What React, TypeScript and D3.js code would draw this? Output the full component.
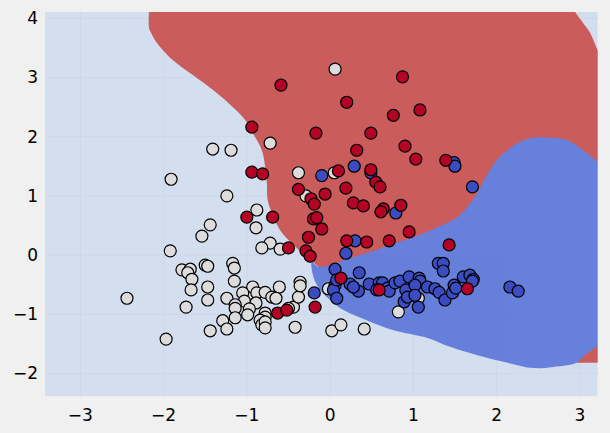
import React from "react";
import * as d3 from "d3";

// ---- data ----
const whiteX = [0.06,-1.41,-1.19,-0.72,-1.91,-1.24,-0.88,-0.38,-0.29,0.05,-1.44,-1.54,-0.89,-0.72,-0.82,-0.60,-1.92,-1.17,-1.15,-1.78,-1.68,-1.71,-1.66,-1.50,-1.47,-1.15,-1.47,-1.67,-0.93,-1.05,-0.88,-0.78,-0.61,-0.70,-0.65,-1.24,-1.03,-0.89,-1.47,-2.44,-1.73,-1.14,-1.14,-0.97,-0.99,-0.78,-0.78,-0.44,-0.50,-0.38,-0.36,-0.36,-1.14,-1.29,-1.24,-1.44,-0.84,-0.82,-0.78,-0.78,-0.42,-1.97,-0.02,1.06,0.82,0.02,0.13,0.41];
const whiteY = [3.14,1.79,1.77,1.89,1.28,1.00,0.76,1.39,1.00,1.39,0.51,0.32,0.46,0.20,0.12,0.10,0.07,-0.14,-0.22,-0.25,-0.24,-0.30,-0.41,-0.17,-0.19,-0.44,-0.54,-0.59,-0.54,-0.64,-0.64,-0.63,-0.54,-0.71,-0.73,-0.73,-0.78,-0.81,-0.76,-0.73,-0.88,-0.84,-0.90,-0.91,-1.01,-0.98,-1.05,-0.88,-0.90,-0.71,-0.46,-0.52,-1.06,-1.11,-1.25,-1.28,-1.10,-1.18,-1.13,-1.23,-1.22,-1.42,-0.57,-0.73,-0.96,-1.28,-1.18,-1.25];

const redX = [-0.59,-0.94,-0.17,-0.94,-0.81,-0.38,-0.23,-0.19,-1.00,-0.69,-0.20,-0.16,0.87,0.20,0.76,1.08,0.49,0.90,0.32,1.03,1.39,0.10,0.49,0.55,0.60,0.19,-0.06,0.28,0.40,0.85,0.64,0.61,-0.10,-0.26,-0.29,-0.24,-0.50,0.95,0.20,0.44,0.71,1.43,0.13,0.59,1.65,-0.18,-0.63,-0.52];
const redY = [2.87,2.16,2.06,1.40,1.37,1.11,0.95,0.86,0.64,0.64,0.61,0.63,3.01,2.58,2.36,2.45,2.06,1.84,1.77,1.62,1.60,1.42,1.44,1.23,1.15,1.13,1.03,0.88,0.83,0.84,0.78,0.73,0.44,0.30,0.07,-0.02,0.12,0.39,0.24,0.22,0.24,0.17,-0.39,-0.59,-0.57,-0.88,-0.98,-0.93];

const blueX = [-0.10,0.29,0.49,1.49,1.50,1.71,0.79,0.30,0.19,0.06,1.30,1.36,1.36,0.35,0.24,0.06,0.04,0.08,0.34,0.47,0.59,0.63,0.69,0.71,0.78,0.84,0.95,1.00,0.91,0.89,0.93,1.07,1.08,1.02,1.02,1.17,1.26,1.31,1.38,1.47,1.49,1.51,1.06,1.60,1.68,1.72,1.71,2.16,2.26,-0.19,0.56,0.28,0.08];
const blueY = [1.34,1.50,1.39,1.56,1.50,1.15,0.71,0.24,0.03,-0.24,-0.14,-0.14,-0.27,-0.30,-0.49,-0.51,-0.59,-0.73,-0.61,-0.49,-0.47,-0.47,-0.56,-0.61,-0.47,-0.44,-0.37,-0.54,-0.59,-0.79,-0.71,-0.39,-0.44,-0.51,-0.68,-0.54,-0.57,-0.63,-0.76,-0.64,-0.51,-0.56,-0.88,-0.37,-0.34,-0.41,-0.44,-0.54,-0.61,-0.64,-0.59,-0.54,-0.42];

// decision boundary outlines; red lies under blue
const redRegionX = [-2.175,-2.175,-2.175,-2.15,-2.08,-1.92,-1.65,-1.41,-1.17,-1.02,-0.93,-0.82,-0.78,-0.76,-0.75,-0.70,-0.60,-0.44,-0.28,-0.12,0.10,0.80,2.00,3.60,3.60,3.35,3.215,3.125,3.04,2.945,2.85,2.50];
const redRegionY = [4.60,4.20,3.83,3.75,3.58,3.33,3.04,2.79,2.50,2.28,2.06,1.77,1.49,1.22,0.93,0.71,0.42,0.17,-0.03,-0.22,-0.45,-0.60,-0.60,-0.60,3.00,3.10,3.46,3.75,3.92,4.105,4.35,4.60];

const blueRegionX = [3.50,3.215,3.04,2.85,2.64,2.44,2.25,2.04,1.92,1.77,1.65,1.53,1.29,1.00,0.72,0.48,0.24,0.00,-0.14,-0.22,-0.20,-0.12,0.00,0.16,0.44,0.76,1.17,1.44,1.84,2.13,2.44,2.68,2.96,3.06,3.215,3.50];
const blueRegionY = [1.20,1.57,1.77,1.94,1.98,1.98,1.89,1.66,1.44,1.05,0.81,0.64,0.47,0.30,0.17,0.05,-0.05,-0.17,-0.20,-0.12,-0.37,-0.59,-0.76,-0.93,-1.10,-1.27,-1.40,-1.55,-1.72,-1.82,-1.91,-1.89,-1.82,-1.69,-1.54,-1.30];

const redSliverX = [2.96,2.96,3.50,3.50];
const redSliverY = [-1.82,-1.40,-1.00,-1.82];

const xTicks = [-3,-2,-1,0,1,2,3];
const yTicks = [-2,-1,0,1,2,3,4];

const W = 610, H = 433;
const left = 45, right = 597.7, top = 12, bottom = 396.5;

export default function App() {
  const x = d3.scaleLinear().domain([-3.425, 3.215]).range([left, right]);
  const y = d3.scaleLinear().domain([-2.39, 4.105]).range([bottom, top]);
  const toPts = (xs: number[], ys: number[]) => xs.map((v, i) => [x(v), y(ys[i])] as [number, number]);
  const smooth = d3.line().curve(d3.curveCatmullRomClosed.alpha(0.5));
  const straight = d3.line();
  const fmt = (v: number) => (v < 0 ? "\u2212" + Math.abs(v) : String(v));
  const pts = (xs: number[], ys: number[], fill: string, key: string) =>
    xs.map((v, i) => (
      <circle key={key + i} cx={x(v)} cy={y(ys[i])} r={6} fill={fill} stroke="#000" strokeWidth={1.2} />
    ));
  return (
    <svg width={W} height={H} style={{ position: "absolute", left: 0, top: 0, fontFamily: "DejaVu Sans" }}>
      <rect x={0} y={0} width={W} height={H} fill="#f0f0f0" />
      <defs>
        <clipPath id="plot"><rect x={left} y={top} width={right - left} height={bottom - top} /></clipPath>
      </defs>
      <g clipPath="url(#plot)">
        <rect x={left} y={top} width={right - left} height={bottom - top} fill="#f0f0f0" />
        {xTicks.map(t => <line key={"gx" + t} x1={x(t)} x2={x(t)} y1={top} y2={bottom} stroke="#cbcbcb" strokeWidth={1} />)}
        {yTicks.map(t => <line key={"gy" + t} y1={y(t)} y2={y(t)} x1={left} x2={right} stroke="#cbcbcb" strokeWidth={1} />)}
        <rect x={left} y={top} width={right - left} height={bottom - top} fill="#ccd9ee" fillOpacity={0.8} />
        <g opacity={0.8}>
          <path d={smooth(toPts(redRegionX, redRegionY)) || ""} fill="#c83c37" />
          <path d={straight(toPts(redSliverX, redSliverY)) + "Z"} fill="#c83c37" />
          <path d={smooth(toPts(blueRegionX, blueRegionY)) || ""} fill="#4c68d7" />
        </g>
        {pts(whiteX, whiteY, "#dddcdc", "w")}
        {pts(blueX, blueY, "#3b4cc0", "b")}
        {pts(redX, redY, "#b40426", "r")}
      </g>
      {xTicks.map(t => (
        <text key={"tx" + t} x={x(t)} y={421} textAnchor="middle" fontSize={17} fill="#000">{fmt(t)}</text>
      ))}
      {yTicks.map(t => (
        <text key={"ty" + t} x={38} y={y(t) + 6} textAnchor="end" fontSize={17} fill="#000">{fmt(t)}</text>
      ))}
    </svg>
  );
}
